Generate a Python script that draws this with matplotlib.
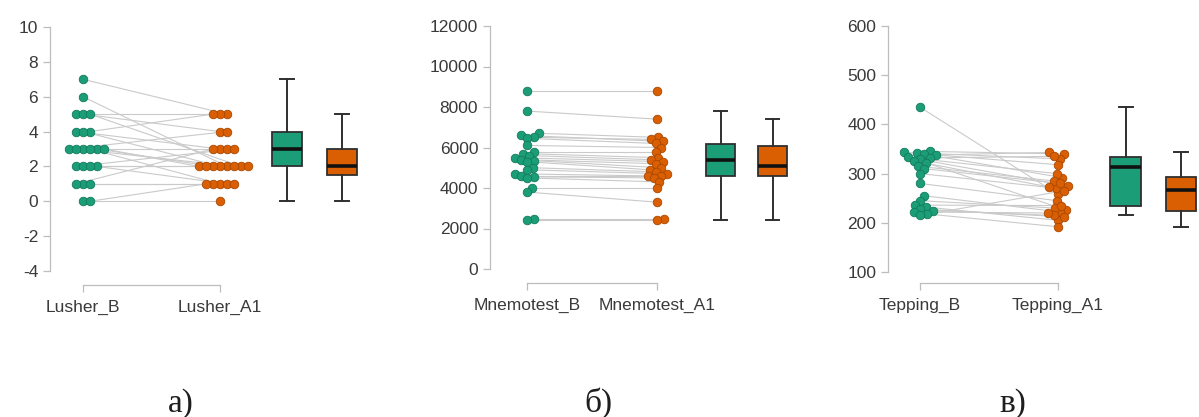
import numpy as np
import matplotlib
matplotlib.use("Agg")
import matplotlib.pyplot as plt

W, H, DPI = 1199, 417, 100

GREEN = "#1b9e77"
ORANGE = "#d95f02"
GREEN_EDGE = "#137a5c"
ORANGE_EDGE = "#a84802"

# ---- data: one entry per subject, before (B) and after (A1) ----
lusher_labels = ["Lusher_B", "Lusher_A1"]
lusher_b = [7, 6, 5, 5, 5, 4, 4, 4, 3, 3, 3, 3, 3, 3, 2, 2, 2, 2, 1, 1, 1, 0, 0]
lusher_a1 = [5, 2, 5, 4, 2, 5, 3, 2, 4, 3, 2, 2, 1, 2, 3, 2, 1, 2, 1, 1, 3, 0, 1]
lusher_ticks = [-4, -2, 0, 2, 4, 6, 8, 10]

mnemo_labels = ["Mnemotest_B", "Mnemotest_A1"]
mnemo_b = [8800, 7800, 6700, 6600, 6500, 6450, 6100, 5800, 5700, 5600, 5500,
           5400, 5350, 5300, 5000, 4900, 4700, 4600, 4550, 4500, 4000, 3800,
           2450, 2400]
mnemo_a1 = [8800, 7400, 6500, 6300, 6400, 6200, 6000, 5800, 5500, 5400, 5300,
            5200, 5000, 4900, 4800, 4700, 4600, 4600, 4500, 4300, 4000, 3300,
            2450, 2400]
mnemo_ticks = [0, 2000, 4000, 6000, 8000, 10000, 12000]

tepping_labels = ["Tepping_B", "Tepping_A1"]
tepping_b = [435, 345, 343, 342, 340, 338, 333, 332, 330, 326, 322, 315,
             310, 300, 280, 255, 245, 236, 232, 228, 225, 222, 218, 215]
tepping_a1 = [258, 340, 330, 292, 318, 343, 275, 335, 300, 270, 226, 285,
              280, 272, 245, 222, 230, 235, 205, 212, 215, 220, 192, 265]
tepping_ticks = [100, 200, 300, 400, 500, 600]

panel_tags = ["а)", "б)", "в)"]

# pixel layout of each panel: y-spine x, category x's, tick rows, x-axis row
layout = [
    dict(spine_x=50, c0=83, c1=220, ytop=27, ybot=271, xaxis_y=285),
    dict(spine_x=490, c0=527, c1=657, ytop=26, ybot=269, xaxis_y=283),
    dict(spine_x=888, c0=920, c1=1058, ytop=26, ybot=272, xaxis_y=283),
]
tag_x = [181, 598, 1013]

panels = [
    (lusher_labels, lusher_b, lusher_a1, lusher_ticks),
    (mnemo_labels, mnemo_b, mnemo_a1, mnemo_ticks),
    (tepping_labels, tepping_b, tepping_a1, tepping_ticks),
]

plt.rcParams["font.family"] = ["Liberation Sans", "DejaVu Sans"]

fig = plt.figure(figsize=(W / DPI, H / DPI), dpi=DPI)
fig.patch.set_facecolor("white")


def swarm_offsets(values, ppx, ppy, min_dist=6.2, step=1.0):
    """Horizontal offsets (data units) so that markers do not pile up."""
    vals = np.asarray(values, dtype=float)
    order = np.argsort(vals)
    placed = []  # (x_px, y_px)
    offs = np.zeros(len(vals))
    cand = [0.0]
    for k in range(1, 80):
        cand += [k * step, -k * step]
    for i in order:
        y = vals[i] * ppy
        for c in cand:
            if all((c - px) ** 2 + (y - py) ** 2 >= min_dist ** 2 - 1e-6
                   for px, py in placed):
                offs[i] = c / ppx
                placed.append((c, y))
                break
    return offs


for (labels, before, after, ticks), lay, tag, tx in zip(panels, layout, panel_tags, tag_x):
    right = lay["spine_x"] + 330
    top_px = 12
    ppx = lay["c1"] - lay["c0"]
    vtop, vbot = ticks[-1], ticks[0]
    ppy = (lay["ybot"] - lay["ytop"]) / (vtop - vbot)

    ax = fig.add_axes([lay["spine_x"] / W, 1 - lay["xaxis_y"] / H,
                       (right - lay["spine_x"]) / W, (lay["xaxis_y"] - top_px) / H])
    ax.set_xlim((lay["spine_x"] - lay["c0"]) / ppx, (right - lay["c0"]) / ppx)
    ax.set_ylim(vbot - (lay["xaxis_y"] - lay["ybot"]) / ppy,
                vtop + (lay["ytop"] - top_px) / ppy)

    xb = 0 + swarm_offsets(before, ppx, ppy)
    xa = 1 + swarm_offsets(after, ppx, ppy)

    # paired lines
    for x0, y0, x1, y1 in zip(xb, before, xa, after):
        ax.plot([x0, x1], [y0, y1], color="#cacaca", lw=0.8, zorder=1)

    ax.scatter(xb, before, s=38, color=GREEN, edgecolor=GREEN_EDGE,
               linewidth=0.6, zorder=3)
    ax.scatter(xa, after, s=38, color=ORANGE, edgecolor=ORANGE_EDGE,
               linewidth=0.6, zorder=3)

    bp = ax.boxplot([before, after], positions=[1.49, 1.89], widths=0.22,
                    patch_artist=True, showfliers=False, capwidths=0.1,
                    manage_ticks=False)
    for patch, fc in zip(bp["boxes"], [GREEN, ORANGE]):
        patch.set_facecolor(fc)
        patch.set_edgecolor("#2f2f2f")
        patch.set_linewidth(1.3)
    for part in ("whiskers", "caps"):
        for ln in bp[part]:
            ln.set_color("#2f2f2f")
            ln.set_linewidth(1.4)
    for ln in bp["medians"]:
        ln.set_color("#111111")
        ln.set_linewidth(2.6)

    for side in ("top", "right"):
        ax.spines[side].set_visible(False)
    ax.spines["left"].set_bounds(vbot, vtop)
    ax.spines["bottom"].set_bounds(0, 1)
    for side in ("left", "bottom"):
        ax.spines[side].set_color("#bdbdbd")
        ax.spines[side].set_linewidth(0.9)

    ax.set_yticks(ticks)
    ax.set_yticklabels([str(t) for t in ticks])
    ax.set_xticks([0, 1])
    ax.set_xticklabels(labels)
    ax.tick_params(axis="both", colors="#bdbdbd", labelcolor="#3a3a3a",
                   labelsize=12.5, length=5, width=0.9)
    ax.tick_params(axis="x", pad=6)
    ax.patch.set_visible(False)

    fig.text(tx / W, 1 - 412 / H, tag, ha="center", va="baseline",
             fontsize=24, family=["Liberation Serif", "DejaVu Serif"],
             color="#1e1e1e")

fig.savefig("out.png", dpi=DPI, facecolor="white")
